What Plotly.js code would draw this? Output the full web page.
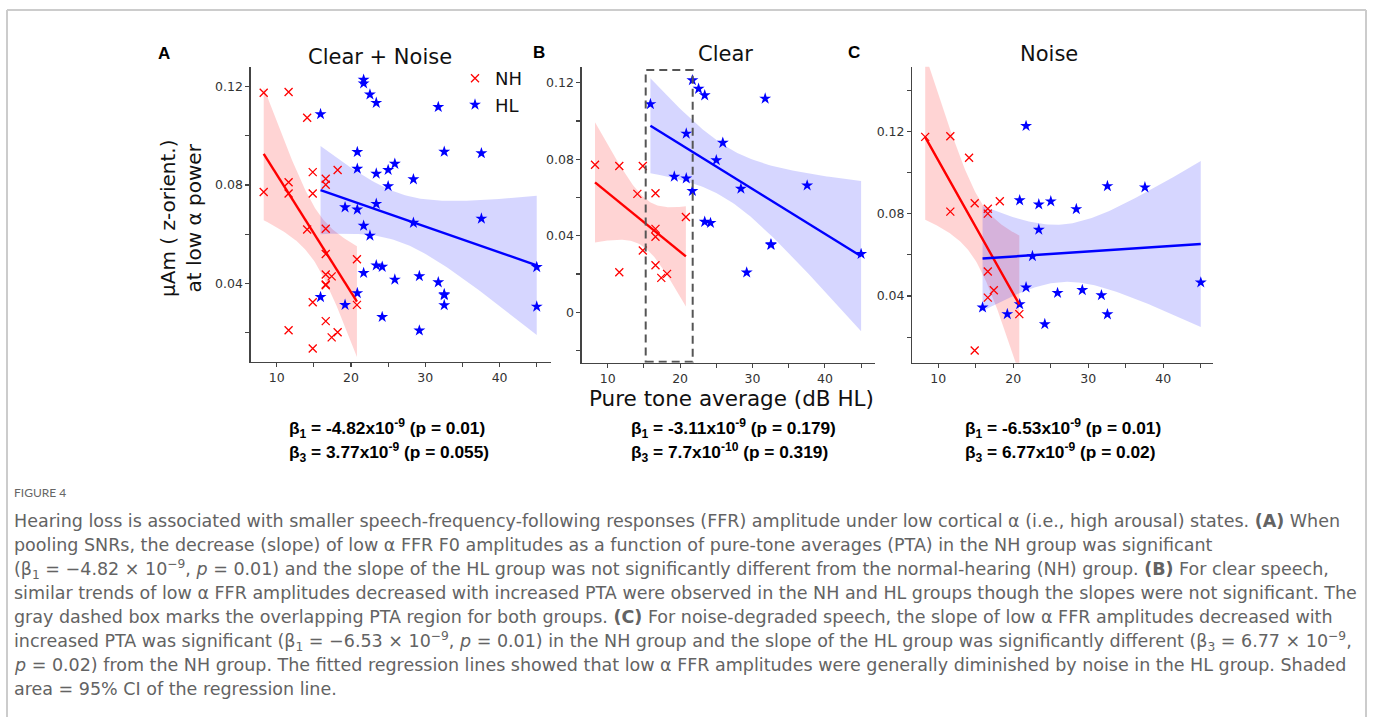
<!DOCTYPE html>
<html>
<head>
<meta charset="utf-8">
<script src="https://cdn.plot.ly/plotly-3.0.1.min.js"></script>
<style>html,body{margin:0;padding:0;background:#fff;}#chart{width:1373px;height:717px;}</style>
</head>
<body>
<div id="chart"></div>
<script>
// ---- data ----
const nhPTA = [8.25, 11.6, 11.6, 14.1, 14.85, 14.85, 16.6, 16.6, 16.6, 16.6, 17.4, 18.2, 20.8];
const nhClear = [0.0771, 0.0765, 0.0209, 0.0619, 0.0765, 0.0323, 0.0622, 0.0436, 0.0395, 0.0246, 0.0180, 0.0201, 0.0498];
const nhNoise = [0.1175, 0.1178, 0.0811, 0.1073, 0.0852, 0.0135, 0.0825, 0.0801, 0.0519, 0.0392, 0.0428, 0.0861, 0.0312];

const hlPTA = [15.9, 19.2, 20.85, 20.85, 21.7, 21.7, 22.55, 23.4, 23.4, 24.2, 25.0, 25.9, 28.4, 29.2, 31.75, 32.55, 32.55, 37.55, 45.0];
const hlClear = [0.1088, 0.0709, 0.0934, 0.0700, 0.1213, 0.0634, 0.1168, 0.1134, 0.0473, 0.0467, 0.0795, 0.0886, 0.0646, 0.0208, 0.1117, 0.0356, 0.0352, 0.0663, 0.0305];
const hlNoise = [0.0344, 0.0312, 0.0866, 0.0360, 0.1228, 0.0442, 0.0594, 0.0846, 0.0723, 0.0263, 0.0861, 0.0415, 0.0823, 0.0429, 0.0404, 0.0935, 0.0311, 0.0929, 0.0466];

const panelTitles = ["Clear + Noise", "Clear", "Noise"];
const panelLetters = ["A", "B", "C"];
const groupNames = ["NH", "HL"];
const xTickVals = [10, 20, 30, 40];
const overlapBox = [15.25, 21.74];   // PTA range of the gray dashed box (panel B)

const betaLines = [
  ["<b>β<sub>1</sub> = -4.82x10<sup>-9</sup> (p = 0.01)</b>", "<b>β<sub>3</sub> = 3.77x10<sup>-9</sup> (p = 0.055)</b>"],
  ["<b>β<sub>1</sub> = -3.11x10<sup>-9</sup> (p = 0.179)</b>", "<b>β<sub>3</sub> = 7.7x10<sup>-10</sup> (p = 0.319)</b>"],
  ["<b>β<sub>1</sub> = -6.53x10<sup>-9</sup> (p = 0.01)</b>", "<b>β<sub>3</sub> = 6.77x10<sup>-9</sup> (p = 0.02)</b>"]
];

const captionLabel = "FIGURE 4";
const captionLines = [
  "Hearing loss is associated with smaller speech-frequency-following responses (FFR) amplitude under low cortical α (i.e., high arousal) states. <b>(A)</b> When",
  "pooling SNRs, the decrease (slope) of low α FFR F0 amplitudes as a function of pure-tone averages (PTA) in the NH group was significant",
  "(β<sub>1</sub> = −4.82 × 10<sup>−9</sup>, <i>p</i> = 0.01) and the slope of the HL group was not significantly different from the normal-hearing (NH) group. <b>(B)</b> For clear speech,",
  "similar trends of low α FFR amplitudes decreased with increased PTA were observed in the NH and HL groups though the slopes were not significant. The",
  "gray dashed box marks the overlapping PTA region for both groups. <b>(C)</b> For noise-degraded speech, the slope of low α FFR amplitudes decreased with",
  "increased PTA was significant (β<sub>1</sub> = −6.53 × 10<sup>−9</sup>, <i>p</i> = 0.01) in the NH group and the slope of the HL group was significantly different (β<sub>3</sub> = 6.77 × 10<sup>−9</sup>,",
  "<i>p</i> = 0.02) from the NH group. The fitted regression lines showed that low α FFR amplitudes were generally diminished by noise in the HL group. Shaded",
  "area = 95% CI of the regression line."
];

// ---- helpers ----
const W = 1373, H = 717;
const px = v => v / W;
const py = v => 1 - v / H;

function tq(df) {
  const z = 1.959964;
  return z + (z**3 + z) / (4*df) + (5*z**5 + 16*z**3 + 3*z) / (96*df*df)
    + (3*z**7 + 19*z**5 + 17*z**3 - 15*z) / (384*df**3);
}
function fit(x, y) {
  const n = x.length;
  const mx = x.reduce((a, b) => a + b, 0) / n;
  const my = y.reduce((a, b) => a + b, 0) / n;
  let sxx = 0, sxy = 0;
  for (let i = 0; i < n; i++) { sxx += (x[i]-mx)**2; sxy += (x[i]-mx)*(y[i]-my); }
  const b = sxy / sxx, a = my - b*mx;
  let sse = 0;
  for (let i = 0; i < n; i++) sse += (y[i] - a - b*x[i])**2;
  const s = Math.sqrt(sse / (n - 2));
  const t = tq(n - 2);
  const lo = Math.min(...x), hi = Math.max(...x);
  const gx = [], gy = [], up = [], dn = [];
  const N = 80;
  for (let k = 0; k <= N; k++) {
    const xv = lo + (hi - lo) * k / N;
    const yv = a + b*xv;
    const se = s * Math.sqrt(1/n + (xv-mx)**2 / sxx);
    gx.push(xv); gy.push(yv); up.push(yv + t*se); dn.push(yv - t*se);
  }
  return {gx, gy, up, dn};
}

const colors = {NH: "#ff0000", HL: "#0000ff"};
const bandColors = {NH: "rgba(255,0,0,0.17)", HL: "rgba(0,0,255,0.16)"};

const panels = [
  {nh: nhClear.concat(nhNoise), nhx: nhPTA.concat(nhPTA), hl: hlClear.concat(hlNoise), hlx: hlPTA.concat(hlPTA)},
  {nh: nhClear, nhx: nhPTA, hl: hlClear, hlx: hlPTA},
  {nh: nhNoise, nhx: nhPTA, hl: hlNoise, hlx: hlPTA}
];

const traces = [];
panels.forEach((p, i) => {
  const xa = i === 0 ? "x" : "x" + (i + 1);
  const ya = i === 0 ? "y" : "y" + (i + 1);
  const groups = [["NH", p.nhx, p.nh], ["HL", p.hlx, p.hl]];
  groups.forEach(([g, gx, gyv]) => {
    const f = fit(gx, gyv);
    traces.push({
      type: "scatter", mode: "lines", xaxis: xa, yaxis: ya,
      x: f.gx.concat(f.gx.slice().reverse()),
      y: f.up.concat(f.dn.slice().reverse()),
      fill: "toself", fillcolor: bandColors[g], line: {width: 0}, hoverinfo: "skip", showlegend: false
    });
  });
  groups.forEach(([g, gx, gyv]) => {
    traces.push({
      type: "scatter", mode: "markers", xaxis: xa, yaxis: ya, x: gx, y: gyv, name: g,
      showlegend: i === 0, legendgroup: g,
      marker: g === "NH"
        ? {symbol: "x-thin", size: 8, color: colors.NH, line: {color: colors.NH, width: 1.3}}
        : {symbol: "star", size: 9, color: colors.HL, line: {width: 0}}
    });
  });
  groups.forEach(([g, gx, gyv]) => {
    const f = fit(gx, gyv);
    traces.push({
      type: "scatter", mode: "lines", xaxis: xa, yaxis: ya, x: f.gx, y: f.gy,
      line: {color: colors[g], width: 2.4}, showlegend: false, hoverinfo: "skip"
    });
  });
});

const tickFont = {family: "DejaVu Sans, Verdana, sans-serif", size: 12.5, color: "#333"};
function xAxis(d0, d1, r, anchor) {
  return {
    domain: [px(d0), px(d1)], range: r, anchor: anchor,
    showgrid: false, zeroline: false, showline: true, linecolor: "#444", linewidth: 1.3,
    ticks: "outside", ticklen: 4, tickcolor: "#444", tickwidth: 1.1,
    tickvals: xTickVals, tickfont: tickFont,
    minor: {dtick: 5, tick0: 0, ticks: "outside", ticklen: 4, tickcolor: "#444", tickwidth: 1.1, showgrid: false}
  };
}
function yAxis(top, bot, r, anchor) {
  return {
    domain: [py(bot), py(top)], range: r, anchor: anchor,
    showgrid: false, zeroline: false, showline: true, linecolor: "#444", linewidth: 1.3,
    ticks: "outside", ticklen: 4, tickcolor: "#444", tickwidth: 1.1,
    dtick: 0.04, tick0: 0, tickfont: tickFont,
    minor: {dtick: 0.02, tick0: 0, ticks: "outside", ticklen: 4, tickcolor: "#444", tickwidth: 1.1, showgrid: false}
  };
}

const annotations = [];
const titleFont = {family: "DejaVu Sans, Verdana, sans-serif", size: 21, color: "#111"};
const titlePos = [[379.5, 56.5], [725.5, 54], [1049, 54]];
const letterPos = [[163.5, 54], [539, 52.5], [854, 52.5]];
panelTitles.forEach((t, i) => {
  annotations.push({text: t, x: px(titlePos[i][0]), y: py(titlePos[i][1]), xref: "paper", yref: "paper",
    xanchor: "center", yanchor: "middle", showarrow: false, font: titleFont});
  annotations.push({text: "<b>" + panelLetters[i] + "</b>", x: px(letterPos[i][0]), y: py(letterPos[i][1]),
    xref: "paper", yref: "paper", xanchor: "center", yanchor: "middle", showarrow: false,
    font: {family: "Liberation Sans, Arial, sans-serif", size: 17, color: "#000"}});
});
// axis titles
annotations.push({text: "μAm ( z-orient.)<br>at low α power", x: px(181), y: py(218), xref: "paper", yref: "paper",
  xanchor: "center", yanchor: "middle", textangle: -90, showarrow: false,
  font: {family: "DejaVu Sans, Verdana, sans-serif", size: 20, color: "#111"}});
annotations.push({text: "Pure tone average (dB HL)", x: px(731.5), y: py(399), xref: "paper", yref: "paper",
  xanchor: "center", yanchor: "middle", showarrow: false,
  font: {family: "DejaVu Sans, Verdana, sans-serif", size: 21.5, color: "#111"}});
// beta lines
const betaX = [287, 629, 963];
betaLines.forEach((ls, i) => {
  ls.forEach((t, j) => {
    annotations.push({text: t, x: px(betaX[i]), y: py(428 + 24*j), xref: "paper", yref: "paper",
      xanchor: "left", yanchor: "middle", showarrow: false,
      font: {family: "Liberation Sans, Arial, sans-serif", size: 17.3, color: "#000"}});
  });
});
// caption
annotations.push({text: captionLabel, x: px(12), y: py(492), xref: "paper", yref: "paper", xanchor: "left", yanchor: "middle",
  showarrow: false, font: {family: "Lato, Open Sans, sans-serif", size: 12, color: "#666"}});
captionLines.forEach((t, k) => {
  annotations.push({text: t, x: px(12), y: py(521 + 24*k), xref: "paper", yref: "paper", xanchor: "left", yanchor: "middle",
    showarrow: false, font: {family: "DejaVu Sans, Open Sans, sans-serif", size: 17.5, color: "#636363"}});
});

const shapes = [
  {type: "rect", xref: "x2", yref: "y2", x0: overlapBox[0], x1: overlapBox[1], y0: -0.0258, y1: 0.1266,
    line: {color: "#555", width: 2, dash: "8px,5px"}, fillcolor: "rgba(0,0,0,0)", layer: "above"},
  // figure frame
  {type: "line", xref: "paper", yref: "paper", x0: px(7), x1: px(1366), y0: py(10), y1: py(10), line: {color: "#ccc", width: 2}},
  {type: "line", xref: "paper", yref: "paper", x0: px(7), x1: px(7), y0: py(10), y1: 0, line: {color: "#ccc", width: 2}},
  {type: "line", xref: "paper", yref: "paper", x0: px(1366), x1: px(1366), y0: py(10), y1: 0, line: {color: "#ccc", width: 2}}
];

const layout = {
  width: W, height: H, margin: {l: 0, r: 0, t: 0, b: 0},
  paper_bgcolor: "#fff", plot_bgcolor: "#fff",
  xaxis: xAxis(250.7, 551, [6.5, 46.92], "y"),
  yaxis: yAxis(66.7, 361.7, [0.0081, 0.1281], "x"),
  xaxis2: xAxis(581.7, 875, [6.41, 46.92], "y2"),
  yaxis2: yAxis(66.7, 362.7, [-0.02634, 0.12836], "x2"),
  xaxis3: xAxis(912.3, 1213.3, [6.53, 46.67], "y3"),
  yaxis3: yAxis(66.7, 362.7, [0.00753, 0.15165], "x3"),
  showlegend: true,
  legend: {x: px(455), y: py(60), xanchor: "left", yanchor: "top", bgcolor: "rgba(0,0,0,0)", borderwidth: 0,
    font: {family: "DejaVu Sans, Verdana, sans-serif", size: 18, color: "#111"}, itemwidth: 30, tracegroupgap: 0},
  annotations: annotations, shapes: shapes
};

Plotly.newPlot("chart", traces, layout, {staticPlot: true, displayModeBar: false});
</script>
</body>
</html>
